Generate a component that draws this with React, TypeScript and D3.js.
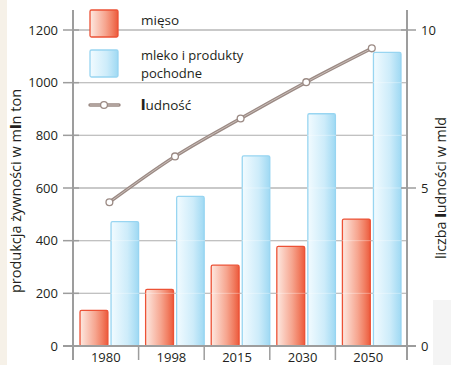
import React from "react";
import * as d3 from "d3";

const categories = ["1980", "1998", "2015", "2030", "2050"];
const meat = [135, 215, 307, 378, 482];
const milk = [472, 568, 722, 882, 1115];
const population = [4.55, 6.0, 7.2, 8.35, 9.42];
const leftTicks = [0, 200, 400, 600, 800, 1000, 1200];
const rightTicks = [0, 5, 10];

const W = 451;
const H = 365;
const FONT = "'Open Sans', 'Noto Sans', sans-serif";
const TEXT = "#231f20";
const AXIS = "#9d9d9d";

export default function App() {
  const yL = d3.scaleLinear().domain([0, 1200]).range([346, 30]);
  const yR = d3.scaleLinear().domain([0, 10]).range([346, 30]);
  const x = d3.scaleBand<string>().domain(categories).range([73, 401]).padding(0);
  const step = x.step();
  const axisLeftX = 73;
  const axisRightX = 407;
  const redOff = step * 0.107;
  const redW = step * 0.425;
  const blueOff = step * 0.58;
  const blueW = step - blueOff;
  const ptOff = step * 0.555;

  const line = d3
    .line<number>()
    .x((_, i) => (x(categories[i]) as number) + ptOff)
    .y((d) => yR(d))
    .curve(d3.curveMonotoneX);

  const pathD = line(population) || "";
  const midY = (yR(0) + yR(10)) / 2;

  return (
    <div style={{ position: "fixed", left: 0, top: 0 }}>
      <svg width={W} height={H} style={{ display: "block", fontFamily: FONT }}>
        <defs>
          <linearGradient id="redG" x1="0" x2="1" y1="0" y2="0">
            <stop offset="0" stopColor="#fde9e1" />
            <stop offset="0.55" stopColor="#f6a58f" />
            <stop offset="0.8" stopColor="#f17e62" />
            <stop offset="1" stopColor="#ec5a3c" />
          </linearGradient>
          <linearGradient id="blueG" x1="0" x2="1" y1="0" y2="0">
            <stop offset="0" stopColor="#f2fbff" />
            <stop offset="0.6" stopColor="#cdecfa" />
            <stop offset="1" stopColor="#9fd9f3" />
          </linearGradient>
        </defs>
        <rect x={0} y={0} width={W} height={H} fill="#ffffff" />
        <rect x={0} y={0} width={7} height={H} fill="#f6f1e8" />
        <rect x={433} y={300} width={W - 433} height={H - 300} fill="#f4f4f4" />

        {/* gridlines */}
        {leftTicks
          .filter((t) => t > 0)
          .map((t) => (
            <line key={"g" + t} x1={axisLeftX} x2={axisRightX} y1={yL(t)} y2={yL(t)} stroke="#a8a8a8" strokeWidth={1.3} />
          ))}

        {/* bars */}
        {categories.map((c, i) => {
          const x0 = x(c) as number;
          return (
            <g key={"b" + c}>
              <rect
                x={x0 + redOff}
                y={yL(meat[i])}
                width={redW}
                height={yL(0) - yL(meat[i])}
                fill="url(#redG)"
                stroke="#ec5236"
                strokeWidth={1.3}
                rx={1.5}
              />
              <rect
                x={x0 + blueOff}
                y={yL(milk[i])}
                width={blueW}
                height={yL(0) - yL(milk[i])}
                fill="url(#blueG)"
                stroke="#98d5f1"
                strokeWidth={1.3}
                rx={1.5}
              />
            </g>
          );
        })}

        {/* faint gridlines over bars */}
        {leftTicks
          .filter((t) => t > 0)
          .map((t) => (
            <line key={"go" + t} x1={axisLeftX} x2={axisRightX} y1={yL(t)} y2={yL(t)} stroke="#ffffff" strokeOpacity={0.35} strokeWidth={1} />
          ))}

        {/* axes */}
        <line x1={axisLeftX} x2={axisLeftX} y1={10} y2={360} stroke={AXIS} strokeWidth={2} />
        <line x1={axisRightX} x2={axisRightX} y1={10} y2={360} stroke={AXIS} strokeWidth={2} />
        <line x1={63} x2={416} y1={yL(0)} y2={yL(0)} stroke={AXIS} strokeWidth={2} />

        {/* left ticks */}
        {leftTicks.map((t) => (
          <g key={"lt" + t}>
            <line x1={63} x2={79} y1={yL(t)} y2={yL(t)} stroke={AXIS} strokeWidth={1.5} />
            <text x={58} y={yL(t)} dy="0.35em" textAnchor="end" fontSize={13} fill={TEXT}>
              {t}
            </text>
          </g>
        ))}

        {/* right ticks */}
        {rightTicks.map((t) => (
          <g key={"rt" + t}>
            <line x1={401} x2={416} y1={yR(t)} y2={yR(t)} stroke={AXIS} strokeWidth={1.5} />
            <text x={421} y={yR(t)} dy="0.35em" textAnchor="start" fontSize={13} fill={TEXT}>
              {t}
            </text>
          </g>
        ))}

        {/* category separators and labels */}
        {categories.map((c) => (
          <line key={"s" + c} x1={x(c) as number} x2={x(c) as number} y1={yL(0)} y2={360} stroke={AXIS} strokeWidth={1.5} />
        ))}
        {categories.map((c) => (
          <text key={"c" + c} x={(x(c) as number) + step / 2} y={362} textAnchor="middle" fontSize={13} fill={TEXT}>
            {c}
          </text>
        ))}

        {/* population line */}
        <path d={pathD} fill="none" stroke="#9b8a84" strokeWidth={3.4} strokeLinecap="round" />
        <path d={pathD} fill="none" stroke="#c9bdb8" strokeWidth={1} strokeLinecap="round" />
        {population.map((p, i) => (
          <circle
            key={"p" + i}
            cx={(x(categories[i]) as number) + ptOff}
            cy={yR(p)}
            r={3.4}
            fill="#ffffff"
            stroke="#9b8a84"
            strokeWidth={1.3}
          />
        ))}

        {/* legend */}
        <rect x={90} y={10} width={28} height={27} fill="url(#redG)" stroke="#ec5236" strokeWidth={1.3} rx={1.5} />
        <rect x={90} y={50} width={28} height={27} fill="url(#blueG)" stroke="#98d5f1" strokeWidth={1.3} rx={1.5} />
        <line x1={90} x2={119} y1={105} y2={105} stroke="#9b8a84" strokeWidth={3.4} strokeLinecap="round" />
        <line x1={90} x2={119} y1={105} y2={105} stroke="#c9bdb8" strokeWidth={1} />
        <circle cx={104} cy={105} r={3.4} fill="#ffffff" stroke="#9b8a84" strokeWidth={1.3} />
        <text x={141} y={25} fontSize={13.5} fill={TEXT}>mięso</text>
        <text x={141} y={60} fontSize={13} fill={TEXT}>mleko i produkty</text>
        <text x={141} y={78} fontSize={13} fill={TEXT}>pochodne</text>
        <text x={141} y={110} fontSize={13.5} fill={TEXT}>
          <tspan fontWeight={800}>l</tspan>udność
        </text>

        {/* axis titles */}
        <text transform={`translate(21,${midY + 3}) rotate(-90)`} textAnchor="middle" fontSize={14.5} fill={TEXT}>
          produkcja żywności w m<tspan fontWeight={800}>l</tspan>n ton
        </text>
        <text transform={`translate(446,${midY}) rotate(-90)`} textAnchor="middle" fontSize={14.3} fill={TEXT}>
          liczba <tspan fontWeight={800}>l</tspan>udności w mld
        </text>
      </svg>
    </div>
  );
}
